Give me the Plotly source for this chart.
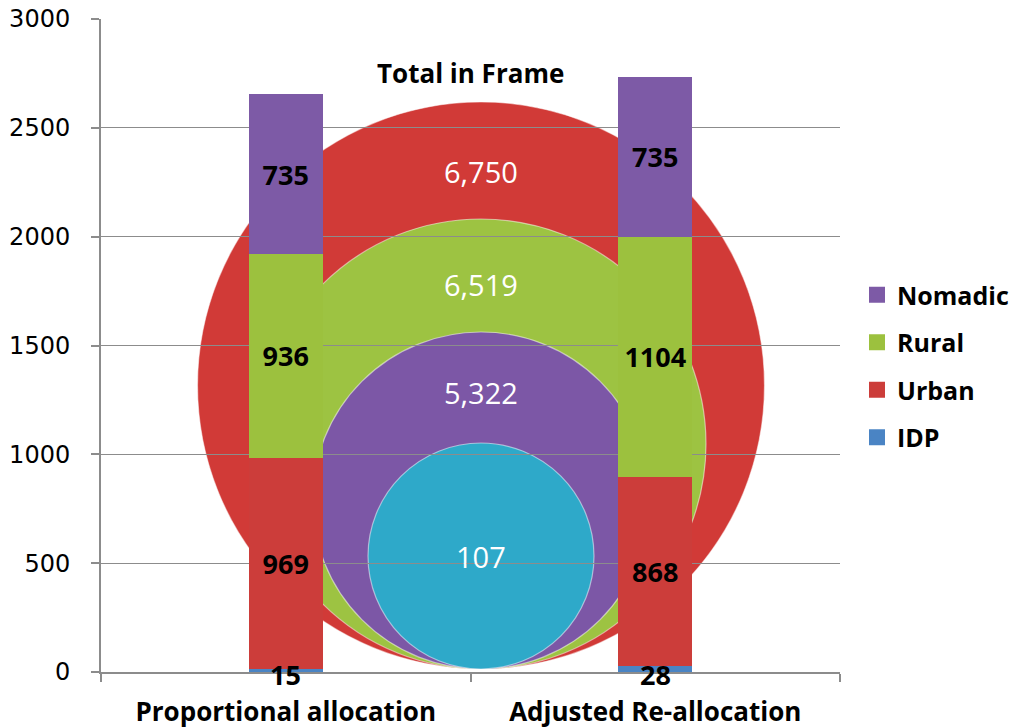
import plotly.graph_objects as go

# ---------------- data ----------------
categories = ["Proportional allocation", "Adjusted Re-allocation"]
idp = [15, 28]
urban = [969, 868]
rural = [936, 1104]
nomadic = [735, 735]

frame_title = "Total in Frame"
frame_labels = ["6,750", "6,519", "5,322", "107"]   # Urban, Rural, Nomadic, IDP totals

# ---------------- style ----------------
# the page body has an 8px margin, so the figure starts at (8, 8) in the window
OFF = 8
W, H = 1018 - OFF, 728 - OFF
# target plot area in window pixels: x 101..840, y 19..672
L, R, T, B = 101 - OFF, 1018 - 840, 19 - OFF, 728 - 672
PW, PH = W - L - R, H - T - B

col_nomadic = "#7D5AA6"
col_rural = "#9CC13E"
col_urban = "#CC3D3A"
col_idp = "#4A84C4"

circle_cols = ["#D13A37", "#9DC342", "#7C57A6", "#2EA9C9"]
circle_diam_px = [567, 450, 337, 226]
circle_cx_px = 481
circle_bottom_px = 669
label_offset_px = [69, 65, 60, 113]

bold_font = "Open Sans"
num_font = "DejaVu Sans"


def px_to_paper_x(px):  # window px -> paper
    return (px - OFF - L) / PW


def px_to_paper_y(py):  # window px -> paper
    return (H - B - (py - OFF)) / PH


fig = go.Figure()

series = [("IDP", idp, col_idp, False, 4),
          ("Urban", urban, col_urban, True, 3),
          ("Rural", rural, col_rural, True, 2),
          ("Nomadic", nomadic, col_nomadic, True, 1)]

for name, vals, col, show_text, rank in series:
    fig.add_trace(go.Bar(
        name=name, x=categories, y=vals,
        marker=dict(color=col, line=dict(width=0)),
        width=0.2,
        text=[str(v) for v in vals] if show_text else None,
        textposition="inside" if show_text else "none",
        insidetextanchor="middle",
        textfont=dict(family=bold_font, size=27, color="black", weight="bold"),
        constraintext="none",
        showlegend=False,
    ))

# legend entries (square swatches)
for name, vals, col, show_text, rank in series:
    fig.add_trace(go.Scatter(
        name=name, x=[None], y=[None], mode="markers",
        marker=dict(symbol="square", size=16, color=col),
        legendgroup=name, legendrank=rank, showlegend=True,
    ))

# IDP labels sit on the baseline
for c, v in zip(categories, idp):
    fig.add_annotation(x=c, y=0, text=f"<b>{v}</b>", showarrow=False,
                       yanchor="middle", yshift=-2,
                       font=dict(family=bold_font, size=27, color="black"))

# background "Total in Frame" circles
shapes = []
for col, d in zip(circle_cols, circle_diam_px):
    x0 = circle_cx_px - d / 2
    x1 = circle_cx_px + d / 2
    y1 = circle_bottom_px
    y0 = circle_bottom_px - d
    shapes.append(dict(type="circle", xref="paper", yref="paper", layer="below",
                       x0=px_to_paper_x(x0), x1=px_to_paper_x(x1),
                       y0=px_to_paper_y(y1), y1=px_to_paper_y(y0),
                       fillcolor=col, line=dict(color="rgba(255,255,255,0.5)", width=1.2)))
for lab, d, off in zip(frame_labels, circle_diam_px, label_offset_px):
    top = circle_bottom_px - d
    fig.add_annotation(xref="paper", yref="paper",
                       x=px_to_paper_x(circle_cx_px), y=px_to_paper_y(top + off),
                       text=lab, showarrow=False, xanchor="center", yanchor="middle",
                       font=dict(family=bold_font, size=29, color="white"))

fig.add_annotation(xref="paper", yref="paper", x=px_to_paper_x(470), y=px_to_paper_y(73),
                   text=f"<b>{frame_title}</b>", showarrow=False,
                   xanchor="center", yanchor="middle",
                   font=dict(family=bold_font, size=26, color="black"))

fig.update_layout(
    width=W, height=H,
    margin=dict(l=L, r=R, t=T, b=B, pad=0, autoexpand=False),
    barmode="stack",
    paper_bgcolor="white", plot_bgcolor="white",
    shapes=shapes,
    showlegend=True,
    legend=dict(x=px_to_paper_x(857), xanchor="left", y=px_to_paper_y(366), yanchor="middle",
                traceorder="grouped", tracegroupgap=12,
                font=dict(family=bold_font, size=25, color="black", weight="bold"),
                bgcolor="rgba(0,0,0,0)"),
    xaxis=dict(showline=True, linecolor="#8C8C8C", linewidth=2, automargin=False,
               ticks="outside", tickson="boundaries", ticklen=8, tickcolor="#8C8C8C",
               tickwidth=1.5, showgrid=False, ticklabelstandoff=16,
               tickfont=dict(family=bold_font, size=26, color="black", weight="bold"),
               range=[-0.5, 1.5]),
    yaxis=dict(range=[0, 3000], dtick=500, showgrid=True, gridcolor="#8C8C8C", gridwidth=1.3,
               showline=True, linecolor="#8C8C8C", linewidth=2, zeroline=False, automargin=False,
               ticks="outside", ticklen=8, tickcolor="#8C8C8C", tickwidth=1.5,
               ticklabelstandoff=16, ticklabeloverflow="allow",
               tickfont=dict(family=num_font, size=24, color="black")),
)

fig.write_html("out.html")
